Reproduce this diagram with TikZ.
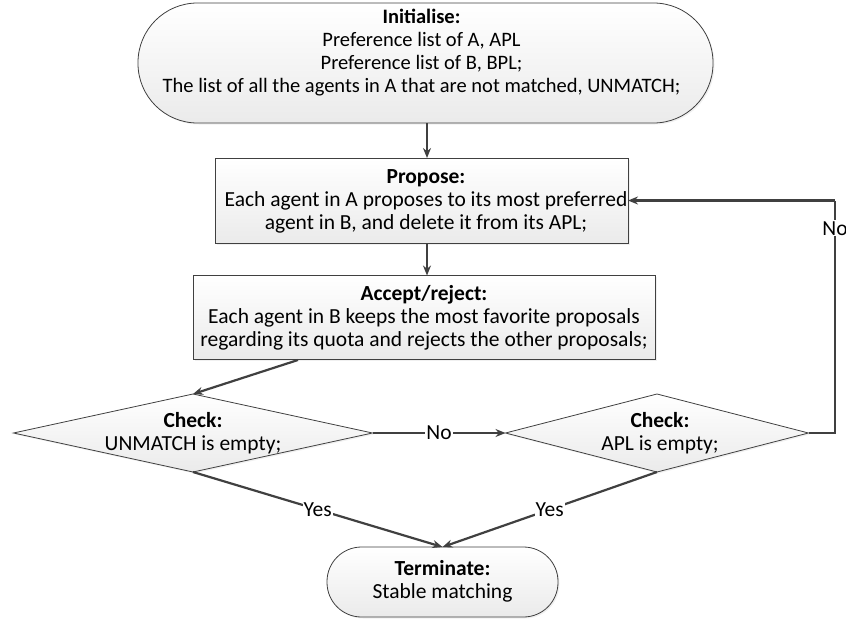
\documentclass[tikz,border=0pt]{standalone}
\usepackage{fontspec}
\setmainfont{Carlito}
\usetikzlibrary{arrows.meta,shapes.geometric,shadows}

\definecolor{edge}{HTML}{404040}

\tikzset{
  box/.style={draw=edge, line width=0.8pt, top color=white, bottom color=black!8,
    inner sep=0pt, outer sep=0pt,
    drop shadow={opacity=0.12, shadow xshift=1.5pt, shadow yshift=-1.5pt}},
  procbox/.style={box, rectangle},
  termbox/.style={box, rectangle, rounded corners=#1},
  decbox/.style={box, diamond},
  txt/.style={align=center, font=\fontsize{21.5}{23}\selectfont, inner sep=0pt},
  smalltxt/.style={align=center, font=\fontsize{20.5}{23}\selectfont, inner sep=0pt},
  conn/.style={draw=edge, line width=2.2pt, -{Stealth[length=10pt,width=8pt]}},
  plain/.style={draw=edge, line width=2.2pt},
  lbl/.style={fill=white, inner sep=1pt, font=\fontsize{21.5}{23}\selectfont}
}

\begin{document}
\begin{tikzpicture}[x=1pt,y=-1pt]
  \useasboundingbox (0,0) rectangle (846,621);

  % shapes
  \node[termbox=59.5pt, minimum width=575pt, minimum height=120pt] (init) at (425.5,63) {};
  \node[smalltxt] (initT) at (421.5,53) {\textbf{Initialise:}\\Preference list of A, APL\\Preference list of B, BPL;\\The list of all the agents in A that are not matched, UNMATCH;};

  \node[procbox, minimum width=413pt, minimum height=85pt] (prop) at (421.5,200.5) {};
  \node[txt] (propT) at (426,201) {\textbf{Propose:}\\Each agent in A proposes to its most preferred\\agent in B, and delete it from its APL;};

  \node[procbox, minimum width=462pt, minimum height=84pt] (acc) at (424,317.5) {};
  \node[txt] (accT) at (424,318) {\textbf{Accept/reject:}\\Each agent in B keeps the most favorite proposals\\regarding its quota and rejects the other proposals;};

  \node[decbox, minimum width=359pt, minimum height=78pt] (chk1) at (193,433) {};
  \node[txt] (chk1T) at (193,433) {\textbf{Check:}\\UNMATCH is empty;};

  \node[decbox, minimum width=303pt, minimum height=78pt] (chk2) at (657,433) {};
  \node[txt] (chk2T) at (660,433) {\textbf{Check:}\\APL is empty;};

  \node[termbox=34.5pt, minimum width=231pt, minimum height=70pt] (term) at (442.5,582) {};
  \node[txt] (termT) at (442.5,581) {\textbf{Terminate:}\\Stable matching};

  % connectors
  \coordinate (accOut) at (298,360);
  \coordinate (rturn) at (835,200.5);

  \draw[conn] (init.south -| 427,0) -- (prop.north -| 427,0);
  \draw[conn] (prop.south -| 427,0) -- (acc.north -| 427,0);
  \draw[conn] (accOut) -- (chk1.north);
  \draw[conn] (chk1.east) -- node[lbl]{No} (chk2.west);
  \draw[plain] (chk2.east) -- (chk2.east -| rturn) -- node[lbl, pos=0.88]{No} (rturn);
  \draw[conn] (rturn) -- (prop.east);
  \draw[conn] (chk1.south) -- node[lbl]{Yes} (term.north);
  \draw[conn] (chk2.south) -- node[lbl]{Yes} (term.north);
\end{tikzpicture}
\end{document}
